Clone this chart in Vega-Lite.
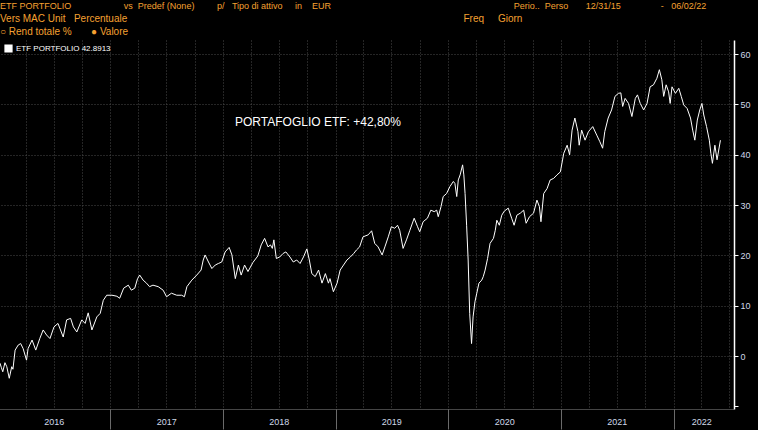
{
  "$schema": "https://vega.github.io/schema/vega-lite/v6.json",
  "width": 734,
  "height": 369,
  "autosize": "none",
  "padding": {"left": 0, "top": 40, "right": 24, "bottom": 21},
  "background": "#000000",
  "config": {
    "view": {"stroke": null},
    "font": "Liberation Sans"
  },
  "title": {
    "text": "ETF PORTFOLIO\u00a0\u00a0\u00a0\u00a0\u00a0\u00a0\u00a0\u00a0\u00a0\u00a0\u00a0\u00a0\u00a0\u00a0\u00a0\u00a0\u00a0\u00a0\u00a0\u00a0\u00a0vs\u00a0\u00a0Predef (None)\u00a0\u00a0\u00a0\u00a0\u00a0\u00a0\u00a0\u00a0\u00a0p/\u00a0\u00a0\u00a0Tipo di attivo\u00a0\u00a0\u00a0\u00a0\u00a0in\u00a0\u00a0\u00a0\u00a0EUR\u00a0\u00a0\u00a0\u00a0\u00a0\u00a0\u00a0\u00a0\u00a0\u00a0\u00a0\u00a0\u00a0\u00a0\u00a0\u00a0\u00a0\u00a0\u00a0\u00a0\u00a0\u00a0\u00a0\u00a0\u00a0\u00a0\u00a0\u00a0\u00a0\u00a0\u00a0\u00a0\u00a0\u00a0\u00a0\u00a0\u00a0\u00a0\u00a0\u00a0\u00a0\u00a0\u00a0\u00a0\u00a0\u00a0\u00a0\u00a0\u00a0\u00a0\u00a0\u00a0\u00a0\u00a0\u00a0\u00a0\u00a0\u00a0\u00a0\u00a0\u00a0\u00a0\u00a0\u00a0\u00a0\u00a0\u00a0\u00a0\u00a0\u00a0\u00a0\u00a0\u00a0Perio..\u00a0\u00a0Perso\u00a0\u00a0\u00a0\u00a0\u00a0\u00a0\u00a012/31/15\u00a0\u00a0\u00a0\u00a0\u00a0\u00a0\u00a0\u00a0\u00a0\u00a0\u00a0\u00a0\u00a0\u00a0\u00a0\u00a0-\u00a0\u00a0\u00a006/02/22",
    "subtitle": [
      "Vers MAC Unit\u00a0\u00a0\u00a0Percentuale\u00a0\u00a0\u00a0\u00a0\u00a0\u00a0\u00a0\u00a0\u00a0\u00a0\u00a0\u00a0\u00a0\u00a0\u00a0\u00a0\u00a0\u00a0\u00a0\u00a0\u00a0\u00a0\u00a0\u00a0\u00a0\u00a0\u00a0\u00a0\u00a0\u00a0\u00a0\u00a0\u00a0\u00a0\u00a0\u00a0\u00a0\u00a0\u00a0\u00a0\u00a0\u00a0\u00a0\u00a0\u00a0\u00a0\u00a0\u00a0\u00a0\u00a0\u00a0\u00a0\u00a0\u00a0\u00a0\u00a0\u00a0\u00a0\u00a0\u00a0\u00a0\u00a0\u00a0\u00a0\u00a0\u00a0\u00a0\u00a0\u00a0\u00a0\u00a0\u00a0\u00a0\u00a0\u00a0\u00a0\u00a0\u00a0\u00a0\u00a0\u00a0\u00a0\u00a0\u00a0\u00a0\u00a0\u00a0\u00a0\u00a0\u00a0\u00a0\u00a0\u00a0\u00a0\u00a0\u00a0\u00a0\u00a0\u00a0\u00a0\u00a0\u00a0\u00a0\u00a0\u00a0\u00a0\u00a0\u00a0\u00a0\u00a0\u00a0\u00a0\u00a0\u00a0\u00a0\u00a0\u00a0\u00a0\u00a0\u00a0\u00a0Freq\u00a0\u00a0\u00a0\u00a0\u00a0Giorn",
      "\u25cb Rend totale %\u00a0\u00a0\u00a0\u00a0\u00a0\u00a0\u00a0\u25cf Valore"
    ],
    "anchor": "start",
    "frame": "group",
    "color": "#f5a031",
    "fontSize": 9,
    "fontWeight": "normal",
    "subtitleColor": "#f5a031",
    "subtitleFontSize": 10,
    "subtitlePadding": 3,
    "subtitleLineHeight": 13,
    "offset": 3
  },
  "datasets": {
    "series": [
      {"d": "2016-01-09", "v": -1.4},
      {"d": "2016-01-13", "v": -2.2},
      {"d": "2016-01-18", "v": -3.1},
      {"d": "2016-01-25", "v": -1.3},
      {"d": "2016-01-31", "v": -2.1},
      {"d": "2016-02-08", "v": -4.4},
      {"d": "2016-02-16", "v": -2.1},
      {"d": "2016-02-20", "v": -2.6},
      {"d": "2016-02-27", "v": 1.2},
      {"d": "2016-03-08", "v": 2.2},
      {"d": "2016-03-16", "v": 2.5},
      {"d": "2016-03-24", "v": 1.5},
      {"d": "2016-04-04", "v": -0.8},
      {"d": "2016-04-09", "v": 1.5},
      {"d": "2016-04-22", "v": 3.2},
      {"d": "2016-05-04", "v": 1.2},
      {"d": "2016-05-17", "v": 3.5},
      {"d": "2016-05-28", "v": 5.2},
      {"d": "2016-06-08", "v": 4.2},
      {"d": "2016-06-19", "v": 3.5},
      {"d": "2016-07-02", "v": 5.8},
      {"d": "2016-07-15", "v": 6.5},
      {"d": "2016-08-01", "v": 3.8},
      {"d": "2016-08-12", "v": 7.2},
      {"d": "2016-08-25", "v": 7.5},
      {"d": "2016-09-03", "v": 5.8},
      {"d": "2016-09-14", "v": 4.8},
      {"d": "2016-09-30", "v": 7.2},
      {"d": "2016-10-11", "v": 6.5},
      {"d": "2016-10-21", "v": 8.6},
      {"d": "2016-11-02", "v": 5.2},
      {"d": "2016-11-18", "v": 7.8},
      {"d": "2016-11-29", "v": 8.5},
      {"d": "2016-12-09", "v": 11.1},
      {"d": "2016-12-20", "v": 12.1},
      {"d": "2017-01-06", "v": 12.1},
      {"d": "2017-01-22", "v": 11.9},
      {"d": "2017-01-31", "v": 11.5},
      {"d": "2017-02-13", "v": 13.5},
      {"d": "2017-02-28", "v": 14.1},
      {"d": "2017-03-10", "v": 13.1},
      {"d": "2017-03-21", "v": 13.5},
      {"d": "2017-03-30", "v": 15.4},
      {"d": "2017-04-06", "v": 16.1},
      {"d": "2017-04-17", "v": 15.1},
      {"d": "2017-04-28", "v": 14.5},
      {"d": "2017-05-08", "v": 13.8},
      {"d": "2017-05-19", "v": 14.1},
      {"d": "2017-06-05", "v": 13.8},
      {"d": "2017-06-21", "v": 13.1},
      {"d": "2017-07-02", "v": 11.8},
      {"d": "2017-07-18", "v": 12.5},
      {"d": "2017-08-04", "v": 12.1},
      {"d": "2017-08-20", "v": 12.1},
      {"d": "2017-08-29", "v": 11.8},
      {"d": "2017-09-06", "v": 13.8},
      {"d": "2017-09-22", "v": 15.1},
      {"d": "2017-10-08", "v": 16.1},
      {"d": "2017-10-22", "v": 17.1},
      {"d": "2017-10-29", "v": 19.1},
      {"d": "2017-11-04", "v": 20.1},
      {"d": "2017-11-15", "v": 18.7},
      {"d": "2017-11-26", "v": 17.4},
      {"d": "2017-12-07", "v": 18.1},
      {"d": "2017-12-17", "v": 18.4},
      {"d": "2017-12-28", "v": 18.7},
      {"d": "2018-01-08", "v": 20.7},
      {"d": "2018-01-21", "v": 21.6},
      {"d": "2018-01-30", "v": 20.1},
      {"d": "2018-02-10", "v": 15.4},
      {"d": "2018-02-20", "v": 18.1},
      {"d": "2018-03-01", "v": 16.1},
      {"d": "2018-03-12", "v": 18.1},
      {"d": "2018-03-23", "v": 16.8},
      {"d": "2018-04-08", "v": 18.6},
      {"d": "2018-04-24", "v": 19.9},
      {"d": "2018-05-05", "v": 22.1},
      {"d": "2018-05-16", "v": 23.4},
      {"d": "2018-05-27", "v": 21.7},
      {"d": "2018-06-04", "v": 22.1},
      {"d": "2018-06-10", "v": 21.4},
      {"d": "2018-06-15", "v": 23.1},
      {"d": "2018-06-23", "v": 19.4},
      {"d": "2018-07-04", "v": 19.7},
      {"d": "2018-07-15", "v": 20.4},
      {"d": "2018-07-24", "v": 20.7},
      {"d": "2018-08-06", "v": 19.7},
      {"d": "2018-08-17", "v": 18.7},
      {"d": "2018-08-28", "v": 19.1},
      {"d": "2018-09-08", "v": 18.4},
      {"d": "2018-09-19", "v": 19.7},
      {"d": "2018-09-30", "v": 21.3},
      {"d": "2018-10-08", "v": 19.1},
      {"d": "2018-10-16", "v": 16.4},
      {"d": "2018-10-27", "v": 15.8},
      {"d": "2018-11-07", "v": 17.1},
      {"d": "2018-11-18", "v": 14.5},
      {"d": "2018-11-29", "v": 16.4},
      {"d": "2018-12-09", "v": 14.5},
      {"d": "2018-12-14", "v": 15.4},
      {"d": "2018-12-25", "v": 12.8},
      {"d": "2019-01-06", "v": 14.5},
      {"d": "2019-01-16", "v": 17.1},
      {"d": "2019-01-27", "v": 18.1},
      {"d": "2019-02-07", "v": 19.1},
      {"d": "2019-02-18", "v": 19.7},
      {"d": "2019-03-01", "v": 20.4},
      {"d": "2019-03-10", "v": 21.1},
      {"d": "2019-03-20", "v": 21.7},
      {"d": "2019-03-31", "v": 23.7},
      {"d": "2019-04-17", "v": 24.1},
      {"d": "2019-04-28", "v": 24.9},
      {"d": "2019-05-08", "v": 22.4},
      {"d": "2019-05-19", "v": 21.7},
      {"d": "2019-06-01", "v": 20.1},
      {"d": "2019-06-10", "v": 21.7},
      {"d": "2019-06-21", "v": 23.7},
      {"d": "2019-07-01", "v": 25.7},
      {"d": "2019-07-12", "v": 25.4},
      {"d": "2019-07-21", "v": 26.0},
      {"d": "2019-07-28", "v": 25.0},
      {"d": "2019-08-08", "v": 21.4},
      {"d": "2019-08-19", "v": 23.1},
      {"d": "2019-08-30", "v": 25.0},
      {"d": "2019-09-13", "v": 27.4},
      {"d": "2019-09-24", "v": 25.7},
      {"d": "2019-10-01", "v": 24.7},
      {"d": "2019-10-12", "v": 26.7},
      {"d": "2019-10-26", "v": 27.4},
      {"d": "2019-11-06", "v": 29.0},
      {"d": "2019-11-17", "v": 28.7},
      {"d": "2019-11-25", "v": 29.0},
      {"d": "2019-11-30", "v": 27.7},
      {"d": "2019-12-09", "v": 29.7},
      {"d": "2019-12-16", "v": 31.7},
      {"d": "2019-12-27", "v": 32.3},
      {"d": "2020-01-07", "v": 33.7},
      {"d": "2020-01-18", "v": 34.7},
      {"d": "2020-01-23", "v": 34.3},
      {"d": "2020-01-29", "v": 31.7},
      {"d": "2020-02-03", "v": 35.0},
      {"d": "2020-02-09", "v": 36.0},
      {"d": "2020-02-17", "v": 38.0},
      {"d": "2020-02-21", "v": 36.0},
      {"d": "2020-02-25", "v": 32.3},
      {"d": "2020-03-01", "v": 26.0},
      {"d": "2020-03-06", "v": 19.1},
      {"d": "2020-03-11", "v": 8.5},
      {"d": "2020-03-17", "v": 2.5},
      {"d": "2020-03-22", "v": 7.8},
      {"d": "2020-03-28", "v": 10.8},
      {"d": "2020-04-03", "v": 12.5},
      {"d": "2020-04-10", "v": 14.5},
      {"d": "2020-04-19", "v": 15.1},
      {"d": "2020-04-24", "v": 15.8},
      {"d": "2020-04-30", "v": 17.1},
      {"d": "2020-05-08", "v": 19.4},
      {"d": "2020-05-16", "v": 22.4},
      {"d": "2020-05-27", "v": 23.4},
      {"d": "2020-06-02", "v": 25.0},
      {"d": "2020-06-07", "v": 27.0},
      {"d": "2020-06-15", "v": 26.0},
      {"d": "2020-06-23", "v": 28.0},
      {"d": "2020-07-01", "v": 28.8},
      {"d": "2020-07-14", "v": 29.4},
      {"d": "2020-07-25", "v": 27.4},
      {"d": "2020-08-02", "v": 26.0},
      {"d": "2020-08-11", "v": 28.0},
      {"d": "2020-08-22", "v": 28.4},
      {"d": "2020-09-02", "v": 29.0},
      {"d": "2020-09-10", "v": 26.4},
      {"d": "2020-09-21", "v": 27.7},
      {"d": "2020-10-04", "v": 28.4},
      {"d": "2020-10-15", "v": 31.0},
      {"d": "2020-10-23", "v": 29.7},
      {"d": "2020-10-28", "v": 26.7},
      {"d": "2020-11-06", "v": 32.3},
      {"d": "2020-11-17", "v": 33.3},
      {"d": "2020-11-27", "v": 35.0},
      {"d": "2020-12-08", "v": 35.3},
      {"d": "2020-12-19", "v": 36.0},
      {"d": "2020-12-30", "v": 36.6},
      {"d": "2021-01-10", "v": 40.3},
      {"d": "2021-01-21", "v": 41.9},
      {"d": "2021-01-29", "v": 40.0},
      {"d": "2021-02-06", "v": 44.9},
      {"d": "2021-02-15", "v": 47.3},
      {"d": "2021-02-25", "v": 44.6},
      {"d": "2021-03-01", "v": 41.9},
      {"d": "2021-03-09", "v": 44.9},
      {"d": "2021-03-20", "v": 42.9},
      {"d": "2021-03-31", "v": 44.6},
      {"d": "2021-04-14", "v": 45.6},
      {"d": "2021-04-27", "v": 43.9},
      {"d": "2021-05-07", "v": 42.6},
      {"d": "2021-05-16", "v": 41.3},
      {"d": "2021-05-23", "v": 44.6},
      {"d": "2021-06-03", "v": 47.3},
      {"d": "2021-06-14", "v": 48.9},
      {"d": "2021-06-25", "v": 51.6},
      {"d": "2021-07-06", "v": 52.2},
      {"d": "2021-07-14", "v": 52.3},
      {"d": "2021-07-20", "v": 49.6},
      {"d": "2021-07-28", "v": 51.2},
      {"d": "2021-08-08", "v": 50.2},
      {"d": "2021-08-19", "v": 47.6},
      {"d": "2021-08-30", "v": 51.2},
      {"d": "2021-09-06", "v": 51.9},
      {"d": "2021-09-15", "v": 50.2},
      {"d": "2021-09-26", "v": 48.9},
      {"d": "2021-10-07", "v": 50.2},
      {"d": "2021-10-17", "v": 53.5},
      {"d": "2021-10-28", "v": 53.9},
      {"d": "2021-11-08", "v": 55.2},
      {"d": "2021-11-16", "v": 56.9},
      {"d": "2021-11-24", "v": 54.9},
      {"d": "2021-11-30", "v": 51.6},
      {"d": "2021-12-08", "v": 53.9},
      {"d": "2021-12-16", "v": 52.5},
      {"d": "2021-12-21", "v": 50.2},
      {"d": "2021-12-27", "v": 53.5},
      {"d": "2022-01-07", "v": 52.2},
      {"d": "2022-01-18", "v": 53.2},
      {"d": "2022-01-26", "v": 51.6},
      {"d": "2022-02-03", "v": 49.9},
      {"d": "2022-02-14", "v": 49.2},
      {"d": "2022-02-25", "v": 47.3},
      {"d": "2022-03-04", "v": 44.9},
      {"d": "2022-03-11", "v": 42.9},
      {"d": "2022-03-19", "v": 46.9},
      {"d": "2022-03-27", "v": 48.9},
      {"d": "2022-04-03", "v": 50.2},
      {"d": "2022-04-09", "v": 47.9},
      {"d": "2022-04-18", "v": 45.6},
      {"d": "2022-04-27", "v": 42.9},
      {"d": "2022-05-02", "v": 40.3},
      {"d": "2022-05-07", "v": 38.3},
      {"d": "2022-05-15", "v": 41.9},
      {"d": "2022-05-22", "v": 39.0},
      {"d": "2022-06-02", "v": 42.89}
    ],
    "note": [
      {"d": "2018-11-05", "v": 46.5, "label": "PORTAFOGLIO ETF: +42,80%"}
    ]
  },
  "layer": [
    {
      "data": {"name": "series"},
      "mark": {"type": "line", "strokeWidth": 1, "clip": true},
      "encoding": {
        "x": {
          "field": "d",
          "type": "temporal",
          "scale": {"domain": ["2016-01-09", "2022-07-16"]},
          "axis": {
            "title": null,
            "orient": "bottom",
            "tickCount": {"interval": "month", "step": 3},
            "grid": true,
            "gridColor": "#4a4a4a",
            "gridDash": [1, 2],
            "gridWidth": 1,
            "domainColor": "#8a8a8a",
            "domainDash": [1, 1],
            "tickColor": {"condition": {"test": "month(datum.value) === 0", "value": "#6a6a6a"}, "value": "transparent"},
            "tickSize": 20,
            "labelPadding": -12,
            "labelExpr": "(month(datum.value) === 6 && year(datum.value) < 2022) || (month(datum.value) === 3 && year(datum.value) === 2022) ? timeFormat(datum.value, '%Y') : ''",
            "labelColor": "#cfd8e8",
            "labelFontSize": 9,
            "labelOverlap": false,
            "labelFlush": false,
            "labelBound": false
          }
        },
        "y": {
          "field": "v",
          "type": "quantitative",
          "scale": {"domain": [-10.5, 62.8], "nice": false, "zero": false},
          "axis": {
            "title": null,
            "orient": "right",
            "values": [-10, -5, 0, 5, 10, 15, 20, 25, 30, 35, 40, 45, 50, 55, 60],
            "grid": true,
            "gridColor": {"condition": {"test": "datum.value % 10 === 0 && datum.value >= 0", "value": "#4a4a4a"}, "value": "transparent"},
            "gridDash": [1, 2],
            "domainColor": "#ffffff",
            "domainWidth": 1.5,
            "tickColor": "#ffffff",
            "tickSize": {"condition": {"test": "datum.value % 10 === 0", "value": 4}, "value": 2},
            "labelExpr": "datum.value % 10 === 0 && datum.value >= 0 ? datum.label : ''",
            "labelColor": "#cfd8e8",
            "labelFontSize": 9,
            "labelPadding": 2
          }
        },
        "color": {
          "datum": "ETF PORTFOLIO  42.8913",
          "type": "nominal",
          "scale": {"range": ["#ffffff"]},
          "legend": {
            "title": null,
            "orient": "top-left",
            "offset": 4,
            "padding": 0,
            "symbolType": "square",
            "symbolFillColor": "#ffffff",
            "symbolStrokeColor": "#ffffff",
            "symbolSize": 45,
            "labelColor": "#ffffff",
            "labelFontSize": 8,
            "labelOffset": 3
          }
        }
      }
    },
    {
      "data": {"name": "note"},
      "mark": {"type": "text", "color": "#ffffff", "fontSize": 12, "font": "Liberation Sans", "align": "center", "baseline": "middle"},
      "encoding": {
        "x": {"field": "d", "type": "temporal"},
        "y": {"field": "v", "type": "quantitative"},
        "text": {"field": "label"}
      }
    }
  ]
}
